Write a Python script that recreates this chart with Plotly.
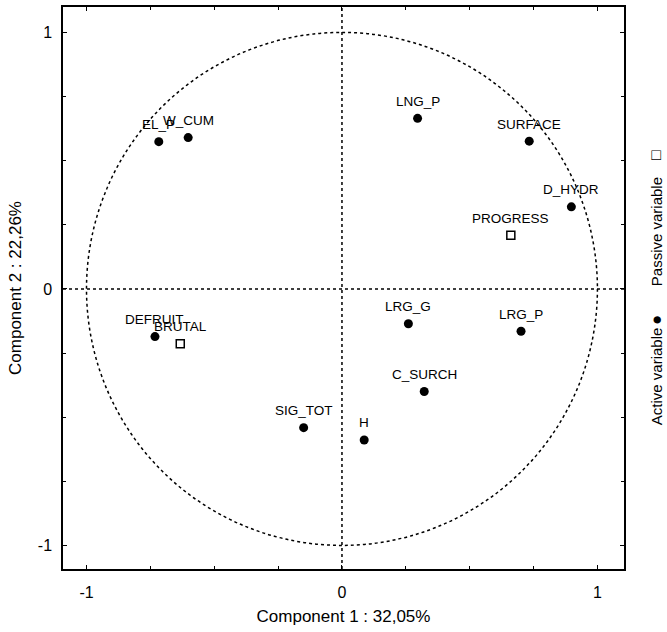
import plotly.graph_objects as go

# Active variables (filled circles)
active_names = ["EL_P", "W_CUM", "LNG_P", "SURFACE", "D_HYDR", "DEFRUIT",
                "SIG_TOT", "LRG_G", "LRG_P", "C_SURCH", "H"]
active_x = [-0.717, -0.602, 0.296, 0.733, 0.898, -0.732, -0.150, 0.260, 0.701, 0.322, 0.087]
active_y = [0.574, 0.590, 0.665, 0.576, 0.320, -0.186, -0.541, -0.136, -0.165, -0.400, -0.589]

# Passive variables (open squares)
passive_names = ["PROGRESS", "BRUTAL"]
passive_x = [0.661, -0.633]
passive_y = [0.209, -0.214]

x_title = "Component 1 : 32,05%"
y_title = "Component 2 : 22,26%"
tick_vals = [-1, 0, 1]
tick_text = ["-1", "0", "1"]

FONT = "Arial, Liberation Sans, sans-serif"

fig = go.Figure()
fig.add_trace(go.Scatter(x=active_x, y=active_y, mode="markers",
                         marker=dict(symbol="circle", size=9, color="black"),
                         showlegend=False, hoverinfo="text", text=active_names))
fig.add_trace(go.Scatter(x=passive_x, y=passive_y, mode="markers",
                         marker=dict(symbol="square-open", size=8, color="black",
                                     line=dict(width=1.5, color="black")),
                         showlegend=False, hoverinfo="text", text=passive_names))

annotations = []
for n, x, y in list(zip(active_names, active_x, active_y)) + list(zip(passive_names, passive_x, passive_y)):
    annotations.append(dict(x=x, y=y, xref="x", yref="y", text=n, showarrow=False,
                            yshift=17, font=dict(family=FONT, size=13.5, color="black")))

# Vertical legend on the right
legend_items = [("\u25a1", 0.7367, 16), ("Passive variable", 0.601, 15),
                ("\u25cf", 0.443, 17), ("Active variable", 0.343, 15)]
for t, py, fs in legend_items:
    annotations.append(dict(x=1.0570, y=py, xref="paper", yref="paper", text=t,
                            showarrow=False, textangle=-90, xanchor="center", yanchor="middle",
                            font=dict(family=FONT, size=fs, color="black")))

shapes = [
    dict(type="circle", xref="x", yref="y", x0=-1, y0=-1, x1=1, y1=1,
         line=dict(color="black", width=1.5, dash="dot")),
    dict(type="line", xref="x", yref="paper", x0=0, x1=0, y0=0, y1=1,
         line=dict(color="black", width=1.5, dash="dot")),
    dict(type="line", xref="paper", yref="y", x0=0, x1=1, y0=0, y1=0,
         line=dict(color="black", width=1.5, dash="dot")),
]

axis_common = dict(
    showgrid=False, zeroline=False, showline=True, linecolor="black", linewidth=1.5,
    mirror="allticks", ticks="inside", ticklen=4, tickcolor="black",
    tickvals=tick_vals, ticktext=tick_text, automargin=False,
    tickfont=dict(family=FONT, size=16, color="black"),
    minor=dict(dtick=0.25, ticks="inside", ticklen=3, tickcolor="black"),
)

fig.update_layout(
    width=667, height=632,
    margin=dict(l=63, r=43, t=7, b=63),
    plot_bgcolor="white", paper_bgcolor="white",
    font=dict(family=FONT, color="black"),
    xaxis=dict(range=[-1.092, 1.104], title=dict(text=x_title, standoff=10,
               font=dict(family=FONT, size=17)), ticklabelstandoff=8, **axis_common),
    yaxis=dict(range=[-1.092, 1.099], title=dict(text=y_title, standoff=12,
               font=dict(family=FONT, size=17)), ticklabelstandoff=6, **axis_common),
    shapes=shapes, annotations=annotations,
)

fig.write_html("out.html", config={"displayModeBar": False},
               post_script="document.body.style.margin='0';"
                           "document.documentElement.style.overflow='hidden';")
